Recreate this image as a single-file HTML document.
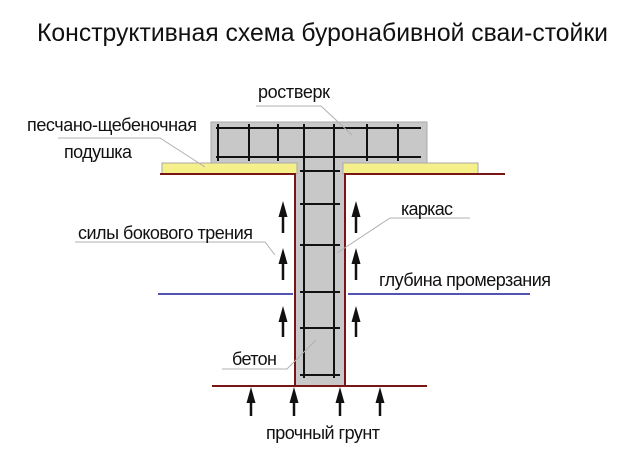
<!DOCTYPE html>
<html><head><meta charset="utf-8"><style>
html,body{margin:0;padding:0;background:#fff;}
svg{display:block;}
text{font-family:"Liberation Sans","DejaVu Sans",sans-serif;fill:#111;}
</style></head><body>
<svg width="630" height="452" viewBox="0 0 630 452" xmlns="http://www.w3.org/2000/svg">
<text x="37" y="41" font-size="25" textLength="571" lengthAdjust="spacingAndGlyphs">Конструктивная схема буронабивной сваи-стойки</text>

<rect x="211" y="122" width="216" height="42" fill="#c8c8c8" stroke="#aaa" stroke-width="1"/>
<rect x="295" y="163" width="50" height="223" fill="#c8c8c8"/>
<rect x="162" y="163" width="135" height="11" fill="#f5f08a" stroke="#aaa" stroke-width="1"/>
<rect x="343" y="163" width="135" height="11" fill="#f5f08a" stroke="#aaa" stroke-width="1"/>
<g stroke="#7a1515" stroke-width="2" fill="none">
<polyline points="160,174 295,174 295,386"/>
<polyline points="505,174 345,174 345,386"/>
<line x1="212" y1="386" x2="427" y2="386"/>
</g>
<g stroke="#1a1a9a" stroke-width="1.5">
<line x1="158" y1="294" x2="293" y2="294"/>
<line x1="348" y1="294" x2="530" y2="294"/>
</g>
<g stroke="#111" stroke-width="2">
<line x1="216" y1="128" x2="421" y2="128"/>
<line x1="216" y1="157" x2="421" y2="157"/>
<line x1="218" y1="124" x2="218" y2="161"/>
<line x1="249" y1="124" x2="249" y2="161"/>
<line x1="278" y1="124" x2="278" y2="161"/>
<line x1="367" y1="124" x2="367" y2="161"/>
<line x1="398" y1="124" x2="398" y2="161"/>
<line x1="304" y1="124" x2="304" y2="378"/>
<line x1="334" y1="124" x2="334" y2="378"/>
<line x1="300" y1="171" x2="340" y2="171"/>
<line x1="300" y1="204" x2="340" y2="204"/>
<line x1="300" y1="245" x2="340" y2="245"/>
<line x1="300" y1="292" x2="340" y2="292"/>
<line x1="300" y1="328" x2="340" y2="328"/>
<line x1="300" y1="375" x2="340" y2="375"/>
</g>
<g fill="#111" stroke="#111" stroke-width="2.5">
<line x1="283" y1="215" x2="283" y2="233"/><polygon stroke="none" points="283,201 278.5,217 287.5,217"/>
<line x1="283" y1="262" x2="283" y2="280"/><polygon stroke="none" points="283,248 278.5,264 287.5,264"/>
<line x1="283" y1="320" x2="283" y2="337"/><polygon stroke="none" points="283,306 278.5,322 287.5,322"/>
<line x1="356" y1="215" x2="356" y2="233"/><polygon stroke="none" points="356,201 351.5,217 360.5,217"/>
<line x1="356" y1="262" x2="356" y2="280"/><polygon stroke="none" points="356,248 351.5,264 360.5,264"/>
<line x1="356" y1="320" x2="356" y2="337"/><polygon stroke="none" points="356,306 351.5,322 360.5,322"/>
<line x1="251" y1="400" x2="251" y2="416"/><polygon stroke="none" points="251,387 246.5,403 255.5,403"/>
<line x1="294" y1="400" x2="294" y2="416"/><polygon stroke="none" points="294,387 289.5,403 298.5,403"/>
<line x1="340" y1="400" x2="340" y2="416"/><polygon stroke="none" points="340,387 335.5,403 344.5,403"/>
<line x1="380" y1="400" x2="380" y2="416"/><polygon stroke="none" points="380,387 375.5,403 384.5,403"/>
</g>
<g stroke="#b0b0b0" stroke-width="1" fill="none">
<polyline points="256,106 321,106 352,135"/>
<polyline points="58,138 160,138 205,167"/>
<polyline points="75,242 265,242 275,255"/>
<polyline points="470,218 390,218 337,253"/>
<polyline points="222,369 287,369 316,340"/>
</g>
<g font-size="18" lengthAdjust="spacingAndGlyphs">
<text x="258" y="98" textLength="72">ростверк</text>
<text x="27" y="131" textLength="170">песчано-щебеночная</text>
<text x="64" y="158" textLength="68">подушка</text>
<text x="401" y="215" textLength="52">каркас</text>
<text x="78" y="239" textLength="175">силы бокового трения</text>
<text x="379" y="286" textLength="172">глубина промерзания</text>
<text x="232" y="365" textLength="45">бетон</text>
<text x="266" y="439" textLength="114">прочный грунт</text>
</g>
</svg>
</body></html>
